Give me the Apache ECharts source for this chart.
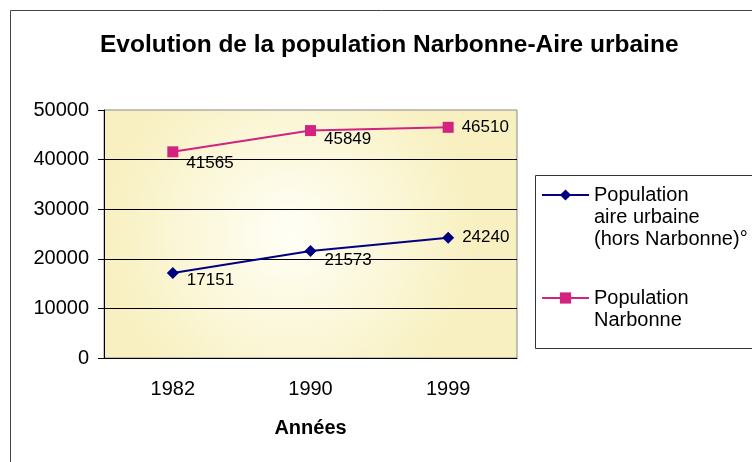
<!DOCTYPE html>
<html>
<head>
<meta charset="utf-8">
<script src="https://cdn.jsdelivr.net/npm/echarts@6/dist/echarts.min.js"></script>
<style>
  html, body { margin: 0; padding: 0; background: #fff; }
  #chart { width: 752px; height: 462px; }
</style>
</head>
<body>
<div id="chart"></div>
<script>
// données
const annees = ["1982", "1990", "1999"];
const aireUrbaine = [17151, 21573, 24240];
const narbonne = [41565, 45849, 46510];
const seriesNames = ["Population aire urbaine (hors Narbonne)°", "Population Narbonne"];
const legendLabels = [
  ["Population", "aire urbaine", "(hors Narbonne)°"],
  ["Population", "Narbonne"],
];
const yTicks = [0, 10000, 20000, 30000, 40000, 50000];

// décalage vertical des étiquettes
const shiftAire = [7, 9, 0];
const shiftNarb = [11, 9, 0];

const font = "'Liberation Sans', Arial, sans-serif";
const LH = 22;

const buildData = (values, shift) =>
  values.map((v, i) => ({ value: v, label: { offset: [0, shift[i]] } }));

// légende : lignes vides en tête pour que l'icône soit sur la première ligne
const legendBlock = (idx, iconY) => {
  const lines = legendLabels[idx];
  const blank = new Array(lines.length - 1).fill("");
  const total = lines.length * 2 - 1;
  return {
    data: [seriesNames[idx]],
    left: 541,
    top: iconY - (LH * total) / 2,
    padding: 0,
    itemWidth: 47,
    itemHeight: 14,
    formatter: () => blank.concat(lines).join("\n"),
    textStyle: { fontSize: 20, color: "#000", fontFamily: font, lineHeight: LH },
  };
};

const chart = echarts.init(document.getElementById("chart"));
chart.setOption({
  backgroundColor: "#fff",
  textStyle: { fontFamily: font },
  title: {
    text: "Evolution de la population Narbonne-Aire urbaine",
    left: 95,
    top: 28,
    textStyle: { fontSize: 24.5, fontWeight: "bold", color: "#000", fontFamily: font },
  },
  legend: [legendBlock(0, 195), legendBlock(1, 298)],
  graphic: [
    {
      type: "rect",
      shape: { x: 10.5, y: 10.5, width: 800, height: 500 },
      style: { fill: "none", stroke: "#444", lineWidth: 1 },
      silent: true,
    },
    {
      type: "rect",
      shape: { x: 535.5, y: 175.5, width: 240, height: 173 },
      style: { fill: "none", stroke: "#333", lineWidth: 1 },
      silent: true,
    },
  ],
  grid: {
    left: 104,
    right: 235,
    top: 110,
    bottom: 104,
    show: true,
    borderColor: "#888",
    borderWidth: 1,
    backgroundColor: {
      type: "radial",
      x: 0.45,
      y: 0.5,
      r: 0.75,
      colorStops: [
        { offset: 0, color: "#fffff6" },
        { offset: 1, color: "#f8f0c0" },
      ],
    },
  },
  xAxis: {
    type: "category",
    data: annees,
    boundaryGap: true,
    name: "Années",
    nameLocation: "middle",
    nameGap: 60,
    nameTextStyle: { fontSize: 20, fontWeight: "bold", color: "#000", fontFamily: font },
    axisLine: { lineStyle: { color: "#000", width: 1 } },
    axisTick: { length: 5, lineStyle: { color: "#000" } },
    axisLabel: { fontSize: 20, color: "#000", margin: 21 },
  },
  yAxis: {
    type: "value",
    min: yTicks[0],
    max: yTicks[yTicks.length - 1],
    interval: yTicks[1] - yTicks[0],
    axisLine: { show: true, lineStyle: { color: "#000", width: 1 } },
    axisTick: { show: true, length: 6, lineStyle: { color: "#000" } },
    axisLabel: { fontSize: 20, color: "#000", margin: 15, formatter: (v) => String(v) },
    splitLine: { show: true, showMaxLine: false, lineStyle: { color: "#000", width: 1 } },
  },
  series: [
    {
      name: seriesNames[0],
      type: "line",
      data: buildData(aireUrbaine, shiftAire),
      symbol: "diamond",
      symbolSize: 12,
      color: "#000080",
      lineStyle: { width: 2, color: "#000080" },
      itemStyle: { color: "#000080" },
      label: { show: true, position: "right", distance: 8, fontSize: 17, color: "#000" },
    },
    {
      name: seriesNames[1],
      type: "line",
      data: buildData(narbonne, shiftNarb),
      symbol: "rect",
      symbolSize: 11,
      color: "#d1237f",
      lineStyle: { width: 2, color: "#d1237f" },
      itemStyle: { color: "#d1237f" },
      label: { show: true, position: "right", distance: 8, fontSize: 17, color: "#000" },
    },
  ],
});
</script>
</body>
</html>
